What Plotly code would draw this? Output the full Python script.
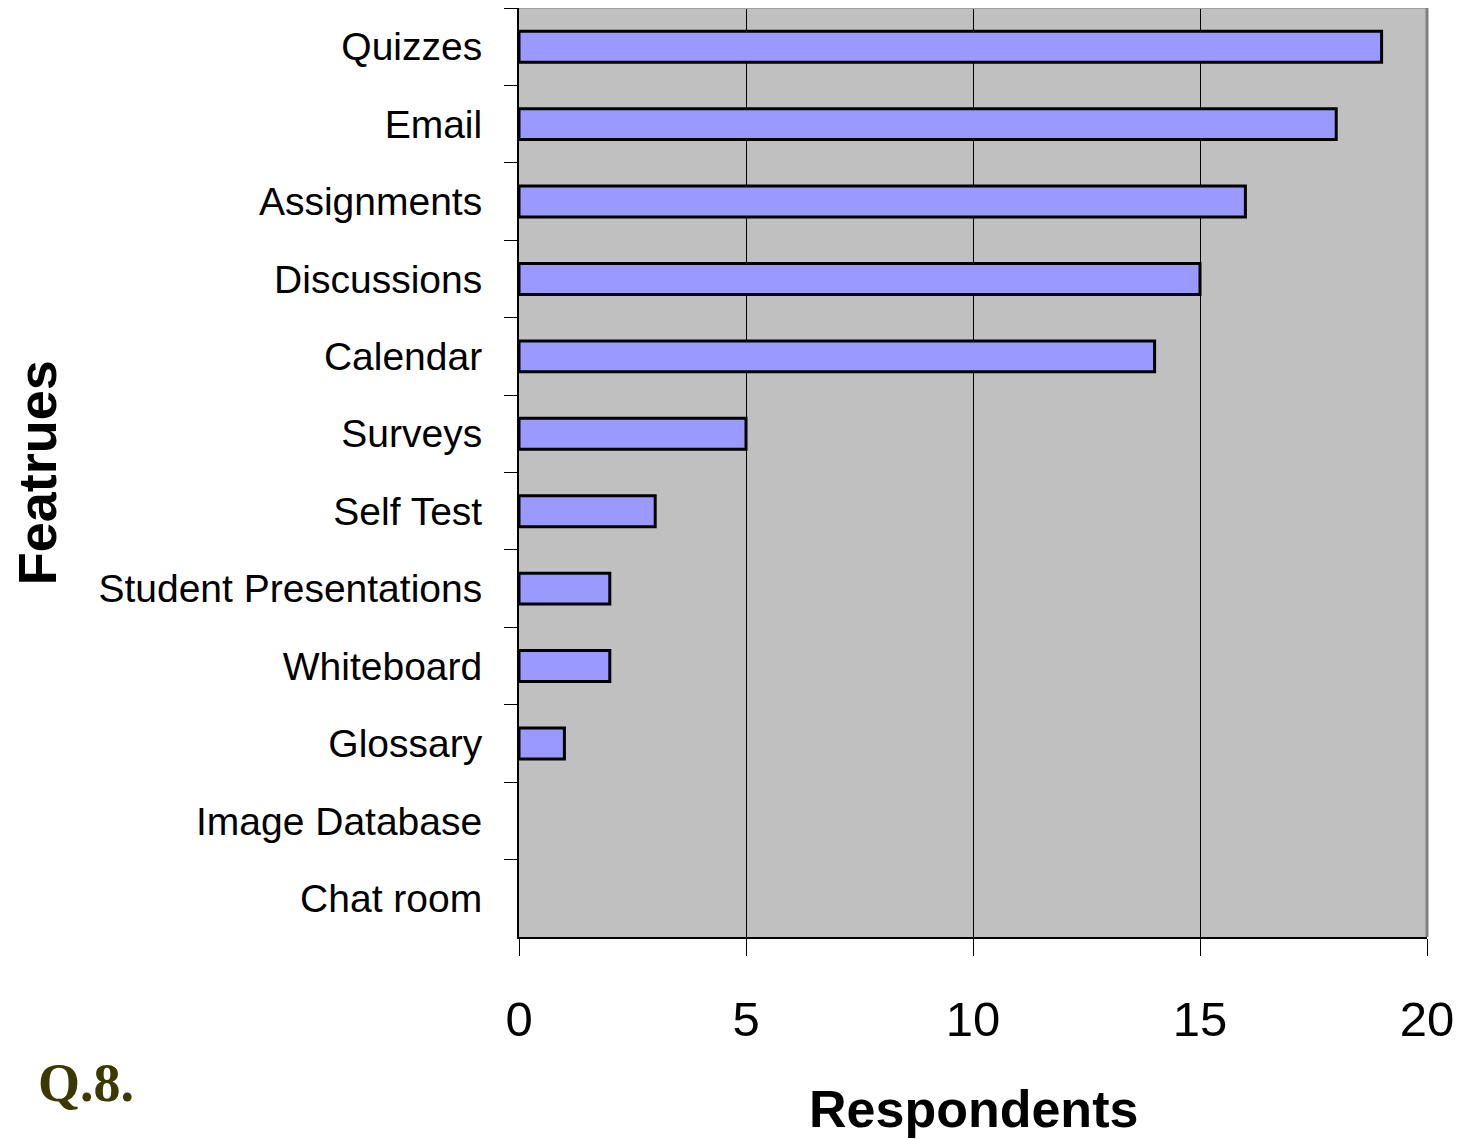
import plotly.graph_objects as go

features = ["Quizzes", "Email", "Assignments", "Discussions", "Calendar", "Surveys",
            "Self Test", "Student Presentations", "Whiteboard", "Glossary",
            "Image Database", "Chat room"]
respondents = [19, 18, 16, 15, 14, 5, 3, 2, 2, 1, 0, 0]
x_ticks = [0, 5, 10, 15, 20]

fig = go.Figure()
fig.add_trace(go.Bar(
    y=features, x=respondents, orientation="h",
    marker=dict(color="#9999FF",
                line=dict(color="black", width=[3 if v > 0 else 0 for v in respondents])),
    width=0.4,
))

fig.update_layout(
    width=1455, height=1131,
    margin=dict(l=511, r=36, t=0, b=202),
    paper_bgcolor="white", plot_bgcolor="#C0C0C0",
    showlegend=False,
    font=dict(family="Liberation Sans, Arial", color="black"),
    xaxis=dict(range=[0, 20], tickvals=x_ticks, showgrid=True, gridcolor="black",
               gridwidth=1, showline=True, linecolor="black", linewidth=2,
               ticks="outside", ticklen=17, tickcolor="black", tickwidth=1,
               tickfont=dict(size=49), ticklabelstandoff=21, zeroline=False,
               fixedrange=True),
    yaxis=dict(categoryorder="array", categoryarray=features, autorange="reversed",
               tickson="boundaries", ticks="outside", ticklen=13, tickcolor="black",
               tickwidth=1, showgrid=False, showline=True, linecolor="black",
               linewidth=2, tickfont=dict(size=39), ticklabelstandoff=27,
               fixedrange=True),
    shapes=[
        dict(type="line", xref="paper", yref="paper", x0=0, x1=1, y0=1, y1=1,
             line=dict(color="#A0A0A0", width=2)),
        dict(type="line", xref="paper", yref="paper", x0=1, x1=1, y0=0, y1=1,
             line=dict(color="#808080", width=3)),
    ],
    annotations=[
        dict(text="<b>Respondents</b>", xref="paper", yref="paper", x=0.5, y=-0.185,
             xanchor="center", yanchor="middle", showarrow=False,
             font=dict(size=52, family="Liberation Sans, Arial", color="black")),
        dict(text="<b>Featrues</b>", xref="paper", yref="paper", x=-0.531, y=0.5,
             xanchor="center", yanchor="middle", showarrow=False, textangle=-90,
             font=dict(size=54, family="Liberation Sans, Arial", color="black")),
        dict(text="<b>Q.8.</b>", xref="paper", yref="paper", x=-0.532, y=-0.157,
             xanchor="left", yanchor="middle", showarrow=False,
             font=dict(size=54, family="Liberation Serif, Times New Roman", color="#3A3A00")),
    ],
)

fig.write_html("out.html")
